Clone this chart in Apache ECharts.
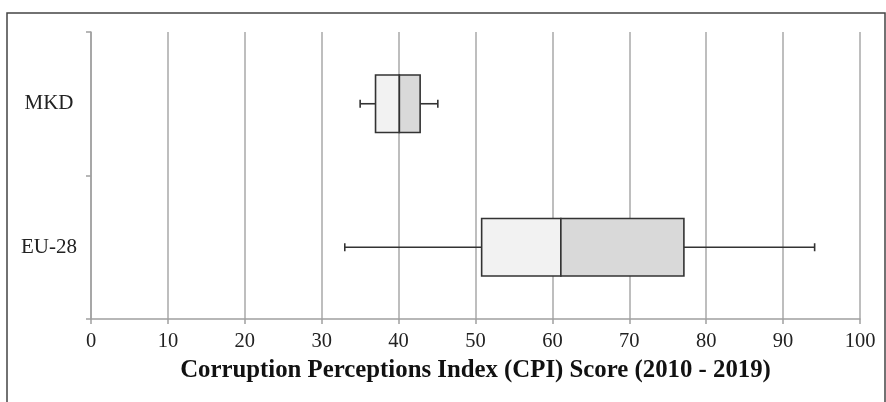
<!DOCTYPE html>
<html>
<head>
<meta charset="utf-8">
<script src="https://cdn.jsdelivr.net/npm/echarts@6/dist/echarts.min.js"></script>
<style>
html,body{margin:0;padding:0;background:#fff;}
#c{width:886px;height:402px;}
</style>
</head>
<body>
<div id="c"></div>
<script>
const categories = ['EU-28', 'MKD'];
const minVals = [33.0, 35.0];
const q1Vals = [50.8, 37.0];
const medianVals = [61.1, 40.1];
const q3Vals = [77.1, 42.8];
const maxVals = [94.1, 45.1];
const xTicks = [0, 10, 20, 30, 40, 50, 60, 70, 80, 90, 100];

const data = categories.map((c, i) => [i, minVals[i], q1Vals[i], medianVals[i], q3Vals[i], maxVals[i]]);

const chart = echarts.init(document.getElementById('c'), null, {renderer: 'canvas'});
const stroke = '#333333';
chart.setOption({
  animation: false,
  grid: {left: 91, right: 26, top: 32, bottom: 83},
  graphic: [{
    type: 'rect', silent: true, z: 100,
    shape: {x: 7, y: 13, width: 878, height: 400},
    style: {fill: 'none', stroke: '#444', lineWidth: 1.5}
  }],
  xAxis: {
    type: 'value', min: xTicks[0], max: xTicks[xTicks.length - 1], interval: 10,
    name: 'Corruption Perceptions Index (CPI) Score (2010 - 2019)',
    nameLocation: 'middle', nameGap: 39,
    nameTextStyle: {fontFamily: 'Liberation Serif', fontWeight: 'bold', fontSize: 24.8, color: '#111'},
    axisLine: {show: true, lineStyle: {color: '#a0a0a0', width: 1.5}},
    axisTick: {show: true, length: 5, lineStyle: {color: '#a0a0a0', width: 1.5}},
    axisLabel: {fontFamily: 'Liberation Serif', fontSize: 20.5, color: '#222', margin: 12},
    splitLine: {show: true, lineStyle: {color: '#a8a8a8', width: 1.5}}
  },
  yAxis: {
    type: 'category', data: categories,
    axisLine: {show: true, lineStyle: {color: '#a0a0a0', width: 1.5}},
    axisTick: {show: true, length: 5, lineStyle: {color: '#a0a0a0', width: 1.5}},
    axisLabel: {fontFamily: 'Liberation Serif', fontSize: 21, color: '#222', align: 'center', margin: 42},
    splitLine: {show: false}
  },
  series: [{
    type: 'custom',
    data: data,
    encode: {x: [1, 2, 3, 4, 5], y: 0},
    renderItem: function (params, api) {
      const ci = api.value(0);
      const band = api.size([0, 1])[1];
      const h = band * 0.4;
      const pMin = api.coord([api.value(1), ci]);
      const pQ1 = api.coord([api.value(2), ci]);
      const pMed = api.coord([api.value(3), ci]);
      const pQ3 = api.coord([api.value(4), ci]);
      const pMax = api.coord([api.value(5), ci]);
      const cy = pMin[1];
      const top = cy - h / 2;
      const cap = 4;
      const ls = {stroke: stroke, lineWidth: 1.6};
      return {
        type: 'group',
        children: [
          {type: 'line', shape: {x1: pMin[0], y1: cy, x2: pQ1[0], y2: cy}, style: ls},
          {type: 'line', shape: {x1: pQ3[0], y1: cy, x2: pMax[0], y2: cy}, style: ls},
          {type: 'line', shape: {x1: pMin[0], y1: cy - cap, x2: pMin[0], y2: cy + cap}, style: ls},
          {type: 'line', shape: {x1: pMax[0], y1: cy - cap, x2: pMax[0], y2: cy + cap}, style: ls},
          {type: 'rect', shape: {x: pQ1[0], y: top, width: pMed[0] - pQ1[0], height: h}, style: {fill: '#f2f2f2', stroke: stroke, lineWidth: 1.6}},
          {type: 'rect', shape: {x: pMed[0], y: top, width: pQ3[0] - pMed[0], height: h}, style: {fill: '#d9d9d9', stroke: stroke, lineWidth: 1.6}}
        ]
      };
    }
  }]
});
</script>
</body>
</html>
